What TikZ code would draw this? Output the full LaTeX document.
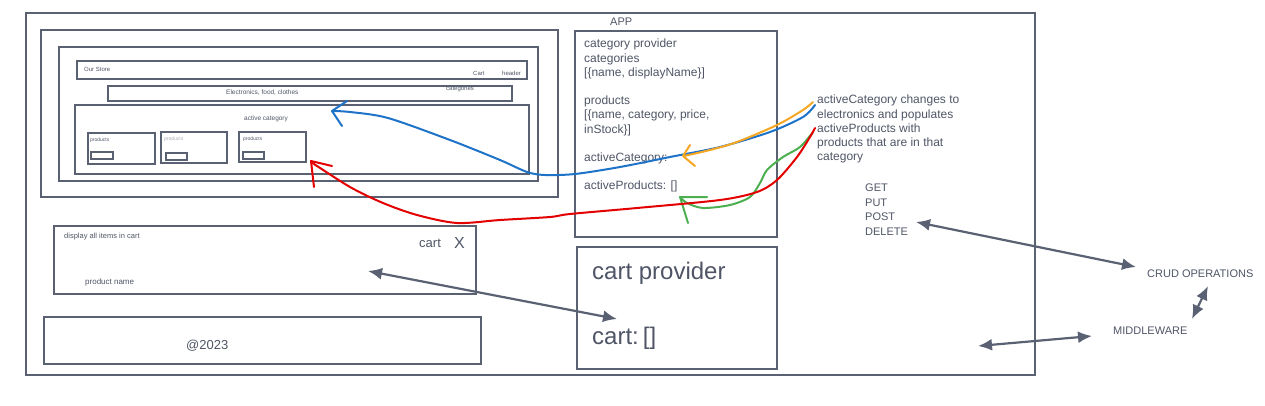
\documentclass[tikz,border=0pt]{standalone}
\usepackage{fontspec}
\setmainfont{Liberation Sans}
\usetikzlibrary{arrows.meta}
\definecolor{wire}{HTML}{5A6172}
\definecolor{ink}{HTML}{4F5566}
\definecolor{penblue}{HTML}{1E73C8}
\definecolor{penorange}{HTML}{F5A623}
\definecolor{pengreen}{HTML}{4CAF50}
\definecolor{penred}{HTML}{E30000}
\tikzset{
  frame/.style={draw=wire, line width=2.4pt},
  thinframe/.style={draw=wire, line width=1.2pt},
  lbl/.style={text=ink, inner sep=0pt, anchor=west},
  link/.style={draw=wire, line width=2.2pt, {Latex[length=14pt,width=12pt]}-{Latex[length=14pt,width=12pt]}},
  pen/.style={line width=2pt, line cap=round, line join=round},
}
\newcommand{\fs}[1]{\fontsize{#1}{#1}\selectfont}
\begin{document}
\begin{tikzpicture}[x=1pt,y=-1pt]
  \useasboundingbox (0,0) rectangle (1265,406);

  % frames
  \draw[frame] (26,13) rectangle (1035,375);
  \draw[frame] (41,30) rectangle (558,197);
  \draw[frame] (59,47) rectangle (538,181);
  \draw[frame] (77,61) rectangle (527,79);
  \draw[frame] (108,86) rectangle (512,101);
  \draw[frame] (75,105) rectangle (529,174);
  \draw[frame, line width=2.8pt] (88,133) rectangle (155,164);
  \draw[frame, line width=2.8pt] (161,132) rectangle (227,163);
  \draw[frame, line width=2.8pt] (239,132) rectangle (306,162);
  \draw[thinframe] (91,152) rectangle (113,159);
  \draw[thinframe] (166,153) rectangle (187,160);
  \draw[thinframe] (243,152) rectangle (264,159);
  \draw[frame] (575,31) rectangle (777,237);
  \draw[frame] (577,247) rectangle (777,369);
  \draw[frame] (54,226) rectangle (476,294);
  \draw[frame] (44,317) rectangle (481,364);

  % page texts
  \node[lbl, font=\fs{6}] (store) at (84,69) {Our Store};
  \node[lbl, font=\fs{6}] (cartlink) at (473,73) {Cart};
  \node[lbl, font=\fs{6}] (header) at (502,73) {header};
  \node[lbl, font=\fs{6.5}] (catlist) at (226,93) {Electronics, food, clothes};
  \node[lbl, font=\fs{6}] (catname) at (446,89) {categories};
  \node[lbl, font=\fs{6.5}] (active) at (244,119) {active category};
  \node[lbl, font=\fs{5}] (prod1) at (90,140) {products};
  \node[lbl, font=\fs{5}, text=ink!50] (prod2) at (164,139) {products};
  \node[lbl, font=\fs{5}] (prod3) at (243,139) {products};
  \node[lbl, font=\fs{7.5}] (display) at (64,237) {display all items in cart};
  \node[lbl, font=\fs{13}] (carttitle) at (419,243) {cart};
  \node[lbl, font=\fs{16}] (close) at (454,243) {X};
  \node[lbl, font=\fs{8}] (pname) at (85,282) {product name};
  \node[lbl, font=\fs{13}] (copy) at (186,346) {@2023};

  % providers
  \node[lbl, font=\fs{11}] (app) at (610,22) {APP};
  \node[lbl, anchor=north west, align=left, font=\fontsize{12}{14.2}\selectfont] (appstate) at (584,39)
    {category provider\\ categories\\ {[}\{name, displayName\}{]}\\[14.2pt]
     products\\ {[}\{name, category, price,\\ inStock\}{]}\\[14.2pt]
     activeCategory:\\[14.2pt] activeProducts: {[]}};
  \node[lbl, font=\fs{24}] (cartprov) at (592,273) {cart provider};
  \node[lbl, font=\fs{24}] (cartstate) at (592,338) {cart:\,{[]}};
  \node[lbl, anchor=north west, align=left, font=\fontsize{12}{14.2}\selectfont] (note) at (817,95)
    {activeCategory changes to\\ electronics and populates\\ activeProducts with\\ products that are in that\\ category};

  % server side
  \node[lbl, anchor=north west, align=left, font=\fontsize{11}{14.5}\selectfont] (verbs) at (865,184)
    {GET\\ PUT\\ POST\\ DELETE};
  \node[lbl, font=\fs{11}] (crud) at (1147,274) {CRUD OPERATIONS};
  \node[lbl, font=\fs{11}] (middle) at (1113,331) {MIDDLEWARE};

  \coordinate (cartin) at (368,271);
  \coordinate (cartout) at (617,319);
  \coordinate (verbsend) at (916,222);
  \coordinate (crudend) at (1136,267);
  \coordinate (crudlow) at (1208,286);
  \coordinate (midtop) at (1192,319);
  \coordinate (midleft) at (1092,336);
  \coordinate (append) at (978,346);
  \draw[link] (cartin) -- (cartout);
  \draw[link] (verbsend) -- (crudend);
  \draw[link] (crudlow) -- (midtop);
  \draw[link] (append) -- (midleft);

  % hand drawn flows
  \draw[pen, penblue] plot[smooth] coordinates {(815,105) (803,117) (770,132) (720,147) (670,157) (620,167) (575,174) (545,175) (527,172) (500,160) (450,140) (388,118) (350,112) (332,111)};
  \draw[pen, penblue] (347,101) -- (332,111) -- (342,126);
  \draw[pen, penorange] plot[smooth] coordinates {(813,102) (803,110) (777,125) (737,142) (710,150) (684,156)};
  \draw[pen, penorange] (690,145) -- (683,156) -- (695,166);
  \draw[pen, pengreen] plot[smooth] coordinates {(813,132) (800,147) (783,157) (767,170) (760,183) (750,197) (730,205) (703,208) (687,203) (680,197)};
  \draw[pen, pengreen] (707,197) -- (680,197) -- (688,223);
  \draw[pen, penred] plot[smooth] coordinates {(815,128) (810,137) (797,157) (777,180) (757,192) (720,200) (637,208) (570,214) (550,217) (500,220) (457,223) (417,215) (383,203) (350,187) (311,162)};
  \draw[pen, penred] (332,166) -- (311,161) -- (314,187);
\end{tikzpicture}
\end{document}
